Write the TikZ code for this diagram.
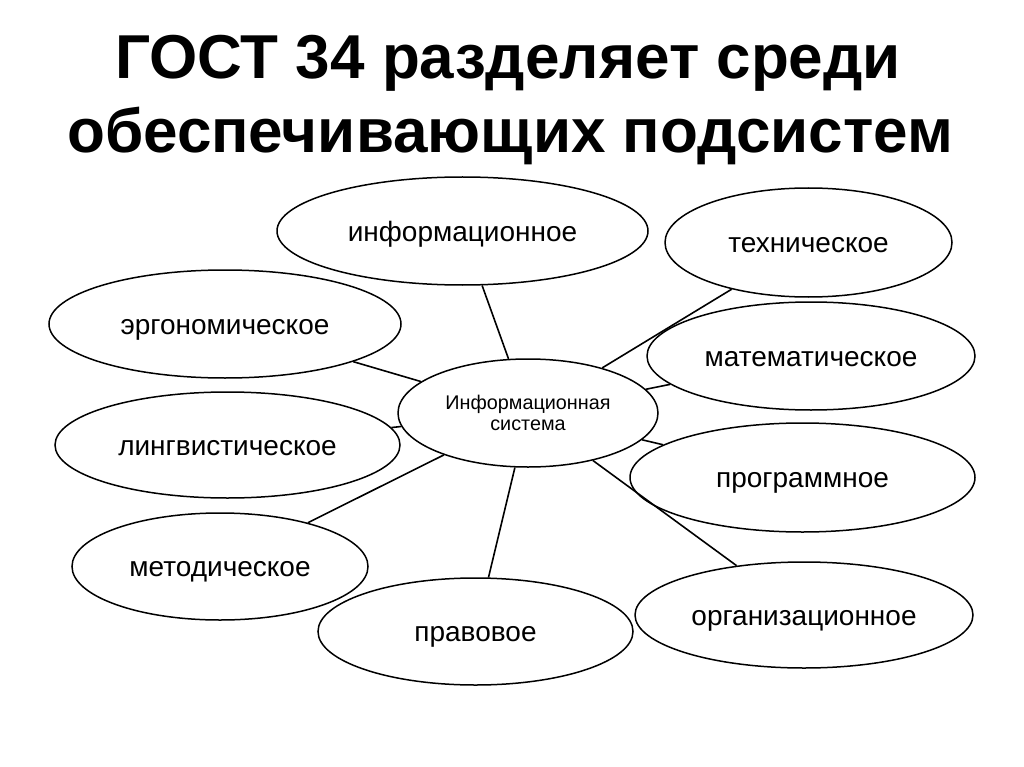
\documentclass[tikz,border=0pt]{standalone}
\usepackage{fontspec}
\setmainfont{Liberation Sans}
\usetikzlibrary{shapes.geometric}
\begin{document}
\begin{tikzpicture}[x=1pt,y=1pt,
  ell/.style={ellipse, draw, line width=1.5pt, inner sep=0pt, font=\fontsize{28}{30}\selectfont, text height=20.5pt, text depth=0pt},
  link/.style={line width=1.6pt},
  ttl/.style={font=\bfseries\fontsize{62}{70}\selectfont, anchor=base}]
\useasboundingbox (0,0) rectangle (1024,-767);
\node[ttl] (t1) at (508,-79) {ГОСТ 34 разделяет среди};
\node[ttl] (t2) at (510,-153) {обеспечивающих подсистем};
\node[ellipse, draw, line width=1.5pt, inner sep=0pt, minimum width=260pt, minimum height=108pt, font=\fontsize{19.8}{21}\selectfont, align=center] (is) at (528,-413) {Информационная\\система};
\node[ell, minimum width=371pt, minimum height=108pt] (inf) at (462.5,-231) {информационное};
\node[ell, minimum width=287pt, minimum height=109pt] (teh) at (808.5,-242.5) {техническое};
\node[ell, minimum width=352pt, minimum height=108pt] (erg) at (225,-324) {эргономическое};
\node[ell, minimum width=328pt, minimum height=108pt] (mat) at (811,-356) {математическое};
\node[ell, minimum width=345pt, minimum height=106pt] (lin) at (227.5,-445) {лингвистическое};
\node[ell, minimum width=345pt, minimum height=109pt] (prg) at (802.5,-477.5) {программное};
\node[ell, minimum width=296pt, minimum height=107pt] (met) at (220,-566.5) {методическое};
\node[ell, minimum width=338pt, minimum height=106pt] (org) at (804,-615) {организационное};
\node[ell, minimum width=315pt, minimum height=107pt] (prv) at (475.5,-631.5) {правовое};
\foreach \n in {inf,teh,erg,mat,lin,prg,met,org,prv}
  \draw[link] (is) -- (\n);
\end{tikzpicture}
\end{document}
